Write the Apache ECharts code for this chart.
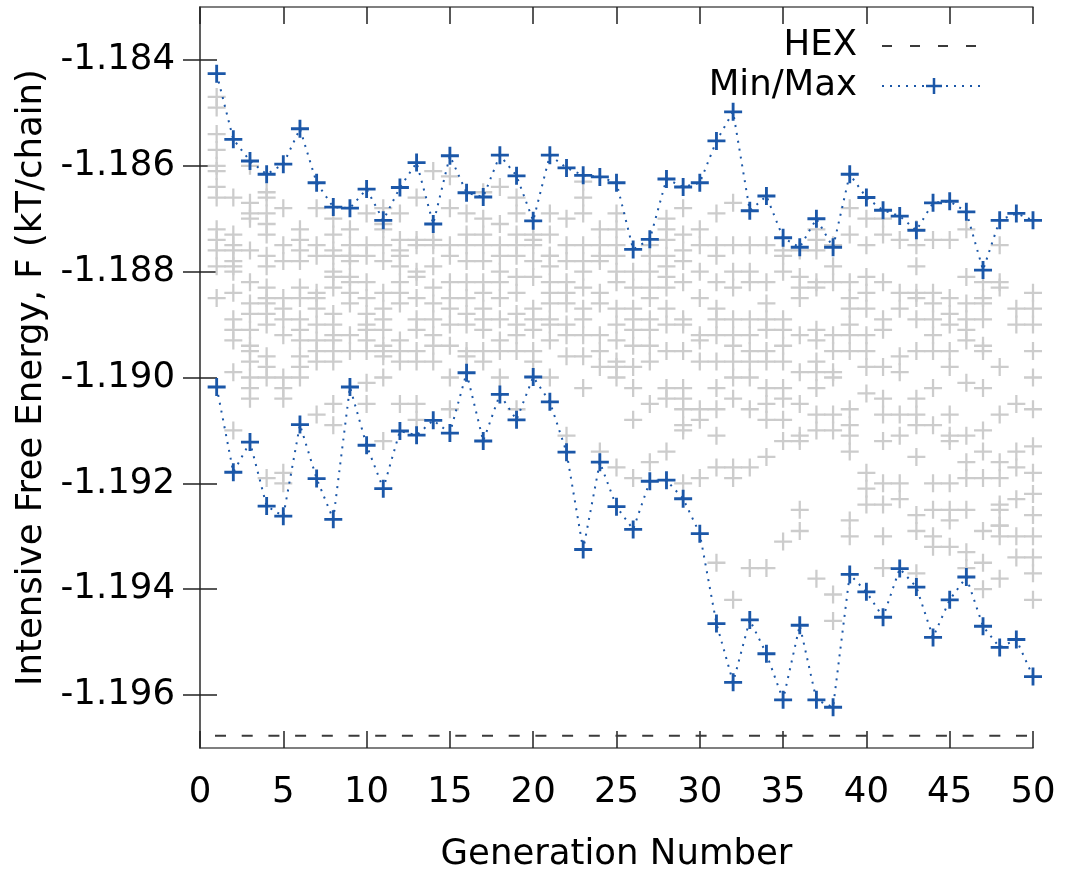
<!DOCTYPE html>
<html>
<head>
<meta charset="utf-8">
<script src="https://cdn.jsdelivr.net/npm/echarts@6/dist/echarts.min.js"></script>
<style>
html,body{margin:0;padding:0;background:#fff;overflow:hidden;}
#chart{width:1065px;height:869px;}
</style>
</head>
<body>
<div id="chart"></div>
<script>
// ---------- data ----------
const GENERATIONS = [1,2,3,4,5,6,7,8,9,10,11,12,13,14,15,16,17,18,19,20,21,22,23,24,25,26,27,28,29,30,31,32,33,34,35,36,37,38,39,40,41,42,43,44,45,46,47,48,49,50];

const MAX_VALUES = [-1.18426,-1.18550,-1.18591,-1.18616,-1.18597,-1.18530,-1.18632,-1.18678,-1.18680,-1.18644,
  -1.18703,-1.18641,-1.18594,-1.18710,-1.18581,-1.18651,-1.18659,-1.18580,-1.18619,-1.18704,
  -1.18580,-1.18604,-1.18618,-1.18621,-1.18632,-1.18758,-1.18739,-1.18625,-1.18640,-1.18632,
  -1.18553,-1.18498,-1.18685,-1.18657,-1.18736,-1.18754,-1.18700,-1.18754,-1.18616,-1.18660,
  -1.18684,-1.18695,-1.18722,-1.18670,-1.18667,-1.18687,-1.18797,-1.18703,-1.18690,-1.18703];

const MIN_VALUES = [-1.19018,-1.19179,-1.19122,-1.19243,-1.19262,-1.19089,-1.19191,-1.19268,-1.19018,-1.19128,
  -1.19210,-1.19101,-1.19109,-1.19081,-1.19105,-1.18991,-1.19120,-1.19032,-1.19080,-1.18999,
  -1.19046,-1.19141,-1.19325,-1.19160,-1.19244,-1.19287,-1.19196,-1.19194,-1.19229,-1.19295,
  -1.19465,-1.19576,-1.19458,-1.19522,-1.19609,-1.19468,-1.19609,-1.19623,-1.19372,-1.19405,
  -1.19453,-1.19361,-1.19396,-1.19491,-1.19420,-1.19377,-1.19470,-1.19510,-1.19495,-1.19565];

// population values per generation (gray crosses), index i -> generation i+1
const POPULATION = [
  [-1.1847,-1.1849,-1.1854,-1.1857,-1.1860,-1.1861,-1.1864,-1.1866,-1.1872,-1.1874,-1.1876,-1.1879,-1.1885],
  [-1.1866,-1.1873,-1.1875,-1.1876,-1.1878,-1.1879,-1.1880,-1.1884,-1.1889,-1.1891,-1.1893,-1.1899,-1.1910],
  [-1.1860,-1.1867,-1.1869,-1.1870,-1.1876,-1.1882,-1.1886,-1.1888,-1.1891,-1.1894,-1.1895,-1.1897,-1.1900,-1.1902,-1.1904],
  [-1.1865,-1.1866,-1.1869,-1.1871,-1.1873,-1.1877,-1.1879,-1.1883,-1.1885,-1.1886,-1.1888,-1.1890,-1.1896,-1.1898,-1.1900,-1.1919],
  [-1.1868,-1.1875,-1.1878,-1.1885,-1.1887,-1.1889,-1.1892,-1.1900,-1.1902,-1.1904,-1.1918,-1.1920],
  [-1.1872,-1.1874,-1.1876,-1.1878,-1.1883,-1.1885,-1.1889,-1.1891,-1.1893,-1.1896,-1.1898,-1.1900],
  [-1.1868,-1.1875,-1.1877,-1.1884,-1.1885,-1.1887,-1.1890,-1.1893,-1.1895,-1.1897,-1.1907],
  [-1.1870,-1.1873,-1.1876,-1.1877,-1.1880,-1.1881,-1.1883,-1.1888,-1.1890,-1.1892,-1.1893,-1.1895,-1.1897,-1.1905,-1.1909],
  [-1.1872,-1.1875,-1.1877,-1.1877,-1.1878,-1.1881,-1.1882,-1.1884,-1.1886,-1.1892,-1.1895],
  [-1.1869,-1.1875,-1.1877,-1.1882,-1.1885,-1.1888,-1.1890,-1.1891,-1.1893,-1.1895,-1.1901,-1.1905],
  [-1.1868,-1.1871,-1.1872,-1.1875,-1.1878,-1.1884,-1.1887,-1.1889,-1.1891,-1.1894,-1.1895,-1.1896,-1.1900,-1.1912],
  [-1.1869,-1.1874,-1.1876,-1.1877,-1.1879,-1.1882,-1.1884,-1.1886,-1.1893,-1.1895,-1.1897,-1.1905],
  [-1.1866,-1.1874,-1.1875,-1.1880,-1.1881,-1.1885,-1.1889,-1.1891,-1.1895,-1.1897,-1.1905,-1.1908],
  [-1.1861,-1.1874,-1.1875,-1.1879,-1.1883,-1.1886,-1.1889,-1.1892,-1.1894,-1.1897],
  [-1.1862,-1.1868,-1.1875,-1.1877,-1.1882,-1.1885,-1.1887,-1.1890,-1.1894,-1.1900,-1.1906],
  [-1.1869,-1.1873,-1.1875,-1.1878,-1.1882,-1.1885,-1.1888,-1.1890,-1.1895,-1.1896],
  [-1.1865,-1.1870,-1.1873,-1.1875,-1.1878,-1.1882,-1.1884,-1.1887,-1.1889,-1.1891,-1.1895,-1.1897],
  [-1.1864,-1.1871,-1.1875,-1.1877,-1.1880,-1.1882,-1.1885,-1.1889,-1.1893,-1.1895,-1.1900],
  [-1.1866,-1.1869,-1.1873,-1.1875,-1.1877,-1.1881,-1.1884,-1.1888,-1.1890,-1.1892,-1.1895,-1.1906],
  [-1.1873,-1.1874,-1.1875,-1.1878,-1.1881,-1.1887,-1.1889,-1.1891,-1.1895,-1.1897],
  [-1.1869,-1.1873,-1.1877,-1.1877,-1.1879,-1.1882,-1.1884,-1.1886,-1.1889,-1.1890,-1.1893,-1.1900],
  [-1.1870,-1.1875,-1.1878,-1.1882,-1.1884,-1.1886,-1.1890,-1.1892,-1.1896,-1.1911],
  [-1.1863,-1.1866,-1.1869,-1.1875,-1.1878,-1.1880,-1.1883,-1.1887,-1.1889,-1.1892,-1.1896,-1.1902],
  [-1.1872,-1.1875,-1.1877,-1.1878,-1.1884,-1.1886,-1.1892,-1.1895,-1.1898,-1.1914],
  [-1.1869,-1.1872,-1.1875,-1.1877,-1.1880,-1.1882,-1.1887,-1.1890,-1.1893,-1.1897,-1.1898,-1.1900,-1.1917],
  [-1.1880,-1.1883,-1.1887,-1.1889,-1.1891,-1.1894,-1.1898,-1.1902,-1.1908,-1.1919],
  [-1.1875,-1.1877,-1.1880,-1.1883,-1.1885,-1.1889,-1.1891,-1.1894,-1.1897,-1.1905,-1.1916],
  [-1.1870,-1.1872,-1.1874,-1.1877,-1.1879,-1.1881,-1.1883,-1.1887,-1.1890,-1.1895,-1.1902,-1.1904,-1.1914],
  [-1.1868,-1.1873,-1.1876,-1.1878,-1.1882,-1.1889,-1.1890,-1.1895,-1.1902,-1.1904,-1.1906,-1.1909,-1.1910,-1.1920],
  [-1.1872,-1.1875,-1.1880,-1.1885,-1.1892,-1.1893,-1.1897,-1.1906,-1.1908,-1.1919],
  [-1.1869,-1.1875,-1.1877,-1.1882,-1.1887,-1.1889,-1.1892,-1.1897,-1.1902,-1.1906,-1.1911,-1.1917,-1.1935],
  [-1.1867,-1.1875,-1.1880,-1.1883,-1.1889,-1.1892,-1.1894,-1.1897,-1.1900,-1.1904,-1.1917,-1.1919,-1.1942],
  [-1.1875,-1.1880,-1.1882,-1.1889,-1.1892,-1.1895,-1.1897,-1.1900,-1.1906,-1.1917,-1.1936],
  [-1.1875,-1.1882,-1.1886,-1.1889,-1.1891,-1.1895,-1.1897,-1.1902,-1.1905,-1.1908,-1.1915,-1.1936],
  [-1.1876,-1.1877,-1.1880,-1.1889,-1.1891,-1.1894,-1.1897,-1.1902,-1.1904,-1.1908,-1.1912,-1.1931],
  [-1.1876,-1.1881,-1.1883,-1.1885,-1.1892,-1.1899,-1.1905,-1.1911,-1.1912,-1.1925,-1.1929],
  [-1.1872,-1.1874,-1.1876,-1.1882,-1.1883,-1.1891,-1.1893,-1.1897,-1.1899,-1.1902,-1.1907,-1.1910,-1.1938],
  [-1.1875,-1.1879,-1.1882,-1.1892,-1.1895,-1.1899,-1.1900,-1.1907,-1.1910,-1.1941,-1.1946],
  [-1.1868,-1.1873,-1.1882,-1.1885,-1.1887,-1.1890,-1.1892,-1.1895,-1.1906,-1.1909,-1.1911,-1.1914,-1.1927,-1.1930],
  [-1.1870,-1.1875,-1.1881,-1.1884,-1.1887,-1.1892,-1.1895,-1.1898,-1.1903,-1.1918,-1.1921,-1.1924],
  [-1.1870,-1.1873,-1.1882,-1.1889,-1.1891,-1.1898,-1.1904,-1.1907,-1.1912,-1.1920,-1.1924,-1.1930,-1.1936],
  [-1.1874,-1.1884,-1.1887,-1.1896,-1.1899,-1.1907,-1.1911,-1.1920,-1.1923],
  [-1.1872,-1.1875,-1.1879,-1.1884,-1.1885,-1.1889,-1.1895,-1.1904,-1.1907,-1.1909,-1.1915,-1.1926,-1.1929,-1.1937],
  [-1.1874,-1.1884,-1.1886,-1.1889,-1.1892,-1.1895,-1.1902,-1.1909,-1.1920,-1.1925,-1.1930,-1.1932],
  [-1.1874,-1.1885,-1.1888,-1.1890,-1.1895,-1.1898,-1.1907,-1.1911,-1.1912,-1.1920,-1.1925,-1.1927,-1.1932],
  [-1.1872,-1.1881,-1.1886,-1.1889,-1.1891,-1.1893,-1.1901,-1.1911,-1.1916,-1.1919,-1.1925,-1.1933,-1.1936],
  [-1.1882,-1.1885,-1.1886,-1.1889,-1.1894,-1.1895,-1.1902,-1.1910,-1.1914,-1.1919,-1.1929,-1.1935,-1.1940],
  [-1.1875,-1.1882,-1.1883,-1.1898,-1.1907,-1.1916,-1.1919,-1.1924,-1.1925,-1.1928,-1.1928,-1.1930,-1.1938],
  [-1.1887,-1.1890,-1.1905,-1.1914,-1.1917,-1.1923,-1.1930,-1.1934],
  [-1.1884,-1.1887,-1.1890,-1.1895,-1.1900,-1.1906,-1.1913,-1.1918,-1.1922,-1.1926,-1.1930,-1.1934,-1.1937,-1.1942]
];

const HEX_VALUE = -1.19677;
const X_RANGE = [0, 50];
const X_TICKS = [0,5,10,15,20,25,30,35,40,45,50];
const Y_RANGE = [-1.197, -1.183];
const Y_TICK_LABELS = ['-1.196','-1.194','-1.192','-1.190','-1.188','-1.186','-1.184'];

// ---------- build ----------
const yTicks = Y_TICK_LABELS.map(Number);
const grayData = [];
POPULATION.forEach((vals, i) => vals.forEach(v => grayData.push([GENERATIONS[i], v])));
const maxData = GENERATIONS.map((g, i) => [g, MAX_VALUES[i]]);
const minData = GENERATIONS.map((g, i) => [g, MIN_VALUES[i]]);

const BLUE = '#1b57a8';
const GRAY = '#cccccc';
const PLUS_BLUE = 'path://M8,0h3v8h8v3h-8v8h-3v-8h-8v-3h8z';
const PLUS_GRAY = 'path://M8.3,0h2.4v8.3h8.3v2.4h-8.3v8.3h-2.4v-8.3h-8.3v-2.4h8.3z';
const FONT = 'DejaVu Sans';
const FS = 35.5;

const chart = echarts.init(document.getElementById('chart'), null, {renderer: 'canvas'});

const frameLine = {show: true, lineStyle: {color: '#555', width: 1.5}};
const tickStyle = {show: true, inside: true, length: 17, lineStyle: {color: '#222', width: 1.5}};

chart.setOption({
  animation: false,
  backgroundColor: '#fff',
  textStyle: {fontFamily: FONT},
  grid: {left: 200, top: 7, right: 32, bottom: 121, containLabel: false, outerBoundsMode: 'none'},
  legend: [
    {
      data: ['HEX'], right: 78, top: 28, padding: 0, orient: 'vertical', align: 'right',
      itemWidth: 104, itemHeight: 20, selectedMode: false,
      itemStyle: {opacity: 0},
      lineStyle: {type: [10, 18], dashOffset: 0, width: 2, color: '#3a3a3a'},
      textStyle: {fontFamily: FONT, fontSize: FS, color: '#000', padding: [0, 20, 0, 0]}
    },
    {
      data: ['Min/Max'], right: 78, top: 68, padding: 0, orient: 'vertical', align: 'right',
      itemWidth: 104, itemHeight: 20, selectedMode: false,
      textStyle: {fontFamily: FONT, fontSize: FS, color: '#000', padding: [0, 20, 0, 0]}
    }
  ],
  xAxis: [
    {
      type: 'value', min: X_RANGE[0], max: X_RANGE[1], interval: 5, position: 'bottom',
      name: 'Generation Number', nameLocation: 'middle', nameGap: 89,
      nameTextStyle: {fontFamily: FONT, fontSize: FS, color: '#000'},
      axisLine: frameLine, axisTick: tickStyle, splitLine: {show: false},
      axisLabel: {fontFamily: FONT, fontSize: FS, color: '#000', margin: 27,
        customValues: X_TICKS, formatter: v => String(v)}
    },
    {
      type: 'value', min: X_RANGE[0], max: X_RANGE[1], interval: 5, position: 'top',
      axisLine: frameLine, axisTick: tickStyle, splitLine: {show: false},
      axisLabel: {show: false}
    }
  ],
  yAxis: [
    {
      type: 'value', min: Y_RANGE[0], max: Y_RANGE[1], position: 'left',
      name: 'Intensive Free Energy, F (kT/chain)', nameLocation: 'middle', nameGap: 144,
      nameRotate: 90,
      nameTextStyle: {fontFamily: FONT, fontSize: FS, color: '#000'},
      axisLine: frameLine,
      axisTick: Object.assign({}, tickStyle, {customValues: yTicks}),
      splitLine: {show: false},
      axisLabel: {fontFamily: FONT, fontSize: FS, color: '#000', margin: 25,
        customValues: yTicks, formatter: v => v.toFixed(3)}
    },
    {
      type: 'value', min: Y_RANGE[0], max: Y_RANGE[1], position: 'right',
      axisLine: frameLine,
      axisTick: Object.assign({}, tickStyle, {customValues: yTicks}),
      splitLine: {show: false},
      axisLabel: {show: false, customValues: yTicks}
    }
  ],
  series: [
    {
      name: 'population', type: 'scatter', data: grayData,
      symbol: PLUS_GRAY, symbolSize: 18, itemStyle: {color: GRAY, opacity: 1},
      silent: true, z: 1
    },
    {
      name: 'HEX', type: 'line', data: [[X_RANGE[0], HEX_VALUE], [X_RANGE[1], HEX_VALUE]],
      showSymbol: false, symbol: 'none',
      lineStyle: {color: '#3a3a3a', width: 2, type: [11, 15.7], dashOffset: 11.7},
      itemStyle: {color: '#3a3a3a'}, z: 2
    },
    {
      name: 'Min/Max', type: 'line', data: maxData,
      symbol: PLUS_BLUE, symbolSize: 18, showSymbol: true,
      lineStyle: {color: BLUE, width: 2, type: [2, 6]},
      itemStyle: {color: BLUE}, z: 3
    },
    {
      name: 'Min/Max', type: 'line', data: minData,
      symbol: PLUS_BLUE, symbolSize: 18, showSymbol: true,
      lineStyle: {color: BLUE, width: 2, type: [2, 6]},
      itemStyle: {color: BLUE}, z: 3
    }
  ]
});
</script>
</body>
</html>
